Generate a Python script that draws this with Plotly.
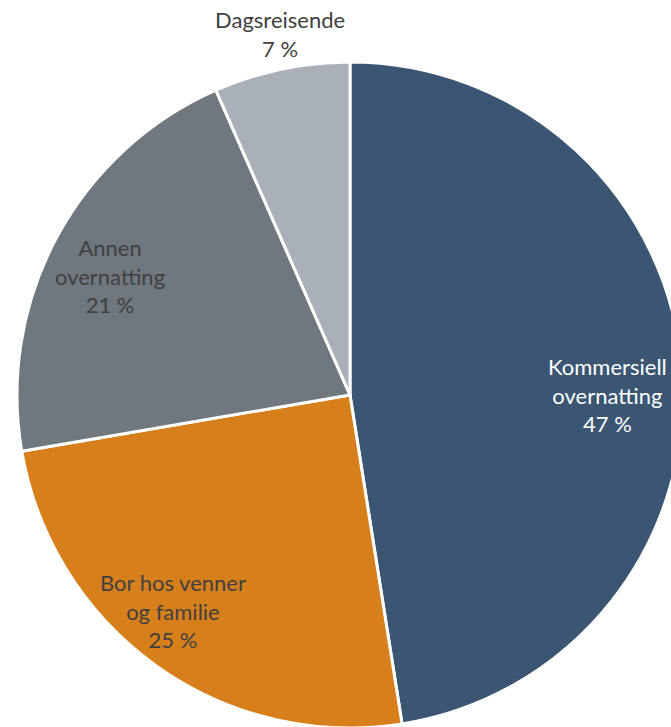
import math
import plotly.graph_objects as go

labels = ["Kommersiell<br>overnatting", "Bor hos venner<br>og familie", "Annen<br>overnatting", "Dagsreisende"]
values = [47.5, 24.8, 21.1, 6.6]
pct_text = ["47 %", "25 %", "21 %", "7 %"]
colors = ["#3A5673", "#D77F1A", "#6F777F", "#A9B0B7"]
text_colors = ["#FFFFFF", "#404040", "#404040", "#404040"]

# label placement: (radius fraction, angle offset in degrees from slice middle)
label_place = [(0.772, 4.5), (0.838, 3.7), (0.805, -1.9), (1.105, 0.9)]

W, H = 700, 800
L, T, S = 17, 62, 666

fig = go.Figure(go.Pie(
    labels=labels, values=values, sort=False, direction="clockwise", rotation=0,
    marker=dict(colors=colors, line=dict(color="white", width=3)),
    textinfo="none", hoverinfo="label+percent",
    domain=dict(x=[0, 1], y=[0, 1]),
))

total = sum(values)
cx = L + S / 2
cy = T + S / 2
R = S / 2
cum = 0
for lab, v, pt, tc, (rf, off) in zip(labels, values, pct_text, text_colors, label_place):
    mid = ((cum + v / 2) / total * 360 + off) * math.pi / 180
    cum += v
    px = cx + rf * R * math.sin(mid)
    py = cy - rf * R * math.cos(mid)
    fig.add_annotation(
        x=(px - L) / S, y=1 - (py - T) / S, xref="paper", yref="paper",
        xanchor="center", yanchor="middle",
        text=f"{lab}<br>{pt}", showarrow=False, align="center",
        font=dict(family="Lato", size=22, color=tc),
    )

fig.update_layout(
    width=W, height=H,
    margin=dict(l=L, r=W - L - S, t=T, b=H - T - S),
    showlegend=False, paper_bgcolor="white", plot_bgcolor="white",
)
fig.write_html(
    "out.html",
    config={"displayModeBar": False},
    post_script=(
        "document.body.style.margin='0';"
        "document.body.style.overflow='hidden';"
        "document.documentElement.style.overflow='hidden';"
    ),
)
